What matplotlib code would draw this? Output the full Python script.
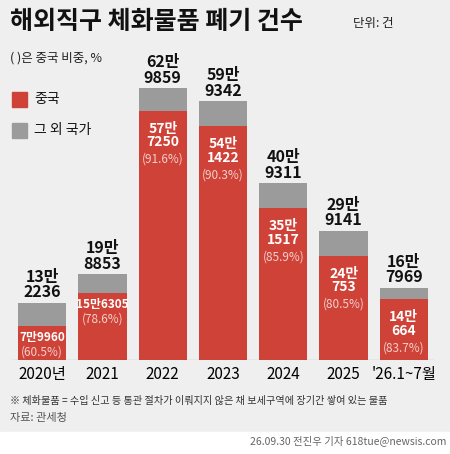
import matplotlib
matplotlib.use("Agg")
import matplotlib.pyplot as plt
from matplotlib.patches import Rectangle

plt.rcParams['font.family'] = ['Noto Sans CJK KR', 'DejaVu Sans']

categories = ["2020년", "2021", "2022", "2023", "2024", "2025", "'26.1~7월"]
totals = [132236, 198853, 629859, 599342, 409311, 299141, 167969]
china = [79960, 156305, 577250, 541422, 351517, 240753, 140664]
shares = [60.5, 78.6, 91.6, 90.3, 85.9, 80.5, 83.7]
total_labels = ["13만\n2236", "19만\n8853", "62만\n9859", "59만\n9342", "40만\n9311", "29만\n9141", "16만\n7969"]
china_labels = ["7만9960", "15만6305", "57만\n7250", "54만\n1422", "35만\n1517", "24만\n753", "14만\n664"]

RED = "#cf4238"
GREY = "#9b9b9b"
BG = "#efefef"

fig = plt.figure(figsize=(4.5, 4.54), dpi=100)
fig.patch.set_facecolor(BG)
fig.add_artist(Rectangle((0, 0), 1, 22/454, transform=fig.transFigure, color="white", zorder=0))

ax = fig.add_axes([12/450, 94/454, 422/450, 302/454])
ax.set_facecolor("none")
x = range(len(categories))
others = [t - c for t, c in zip(totals, china)]
ax.bar(x, china, width=0.8, color=RED)
ax.bar(x, others, bottom=china, width=0.8, color=GREY)
ax.set_xlim(-0.5, 6.5)
ax.set_ylim(0, 700000)
for s in ax.spines.values():
    s.set_visible(False)
ax.set_yticks([])
ax.set_xticks(list(x))
ax.set_xticklabels(categories, fontsize=11)
ax.tick_params(axis='x', length=0, pad=4)
ax.axhline(0, color="#555555", lw=0.8)

for i in x:
    ax.text(i, totals[i] + 6000, total_labels[i], ha="center", va="bottom", fontsize=11.5,
            fontweight="bold", linespacing=0.95, color="#111111")
    two_line = "\n" in china_labels[i]
    if two_line:
        ytop = china[i] - 25000
        ax.text(i, ytop, china_labels[i], ha="center", va="top", fontsize=10,
                fontweight="bold", color="white", linespacing=0.95)
        ax.text(i, ytop - 72000, f"({shares[i]}%)", ha="center", va="top", fontsize=8.5,
                color="#f3d0cc")
    else:
        ax.text(i, china[i] - 12000, china_labels[i], ha="center", va="top", fontsize=8.5,
                fontweight="bold", color="white")
        ax.text(i, china[i] - 47000, f"({shares[i]}%)", ha="center", va="top", fontsize=8.5,
                color="#f3d0cc")

fig.text(10/450, 1 - 22/454, "해외직구 체화물품 폐기 건수", fontsize=18, fontweight="bold",
         va="center", ha="left", color="#111111")
fig.text(353/450, 1 - 24/454, "단위: 건", fontsize=9, va="center", ha="left", color="#222222")
fig.text(10/450, 1 - 58/454, "( )은 중국 비중, %", fontsize=9, va="center", ha="left", color="#222222")

for yy, col, lab in [(99, RED, "중국"), (130, GREY, "그 외 국가")]:
    fig.add_artist(Rectangle((12/450, 1 - (yy + 8)/454), 15/450, 15/454,
                             transform=fig.transFigure, color=col))
    fig.text(34/450, 1 - yy/454, lab, fontsize=10, va="center", ha="left", color="#111111")

fig.text(10/450, 1 - 401/454, "※ 체화물품 = 수입 신고 등 통관 절차가 이뤄지지 않은 채 보세구역에 장기간 쌓여 있는 물품",
         fontsize=7.3, va="center", ha="left", color="#333333")
fig.text(10/450, 1 - 418/454, "자료: 관세청", fontsize=8, va="center", ha="left", color="#555555")
fig.text(446/450, 1 - 441/454, "26.09.30 전진우 기자 618tue@newsis.com", fontsize=7.5,
         va="center", ha="right", color="#666666")

fig.savefig("out.png", dpi=100, facecolor=fig.get_facecolor())
